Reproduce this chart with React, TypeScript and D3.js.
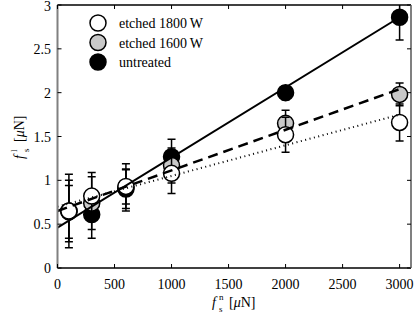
import React from 'react';
import * as d3 from 'd3';

const forces = [100, 300, 600, 1000, 2000, 3000];

const etched1800 = [0.65, 0.82, 0.93, 1.08, 1.52, 1.66];
const etched1800Err = [0.42, 0.27, 0.2, 0.23, 0.2, 0.21];
const etched1600 = [0.65, 0.74, 0.92, 1.17, 1.65, 1.98];
const etched1600Err = [0.35, 0.3, 0.27, 0.2, 0.15, 0.13];
const untreated = [0.64, 0.61, 0.9, 1.27, 2.0, 2.86];
const untreatedErr = [0.3, 0.27, 0.22, 0.2, 0.08, 0.26];

const fitX = [0, 3000];
const fit1800 = [0.7, 1.75];
const fit1600 = [0.65, 2.04];
const fitUntreated = [0.46, 2.86];

const xTicks = [0, 500, 1000, 1500, 2000, 2500, 3000];
const yTicks = [0, 0.5, 1, 1.5, 2, 2.5, 3];

const legendLabels = ['etched 1800\u2009W', 'etched 1600\u2009W', 'untreated'];

const W = 415;
const H = 313;
const left = 57.5;
const right = 411;
const top = 5;
const bottom = 268;
const font = '"Liberation Serif", "DejaVu Serif", serif';

const App: React.FC = () => {
  const x = d3.scaleLinear().domain([0, 3100]).range([left, right]);
  const y = d3.scaleLinear().domain([0, 3]).range([bottom, top]);

  const line = d3.line<number>().x((_, i) => x(fitX[i])).y(d => y(d));

  // drawn back to front: untreated, 1600 W, 1800 W
  const series = [
    { vals: untreated, err: untreatedErr, fill: '#000' },
    { vals: etched1600, err: etched1600Err, fill: '#c8c8c8' },
    { vals: etched1800, err: etched1800Err, fill: '#fff' },
  ];
  const legendFills = ['#fff', '#c8c8c8', '#000'];

  return (
    <svg width={W} height={H} style={{ position: 'absolute', left: 0, top: 0, background: '#fff' }} fontFamily={font}>
      <defs>
        <clipPath id="plot">
          <rect x={left} y={top} width={right - left} height={bottom - top} />
        </clipPath>
      </defs>

      <g clipPath="url(#plot)">
        {series.map((s, si) => (
          <g key={si}>
            {s.vals.map((v, i) => {
              const cx = x(forces[i]);
              const y0 = y(v - s.err[i]);
              const y1 = y(v + s.err[i]);
              return (
                <g key={i} stroke="#000" strokeWidth={1.5}>
                  <line x1={cx} x2={cx} y1={y0} y2={y1} />
                  <line x1={cx - 4} x2={cx + 4} y1={y0} y2={y0} />
                  <line x1={cx - 4} x2={cx + 4} y1={y1} y2={y1} />
                  <circle cx={cx} cy={y(v)} r={8} fill={s.fill} />
                </g>
              );
            })}
          </g>
        ))}
        <path d={line(fitUntreated) ?? ''} fill="none" stroke="#000" strokeWidth={2} />
        <path d={line(fit1600) ?? ''} fill="none" stroke="#000" strokeWidth={2.5} strokeDasharray="10,6" />
        <path d={line(fit1800) ?? ''} fill="none" stroke="#000" strokeWidth={2} strokeDasharray="1,3.5" />
      </g>

      {/* frame */}
      <line x1={left} x2={right} y1={bottom} y2={bottom} stroke="#000" strokeWidth={1.3} />
      <line x1={left} x2={right} y1={top} y2={top} stroke="#000" strokeWidth={1.3} />
      <line x1={left} x2={left} y1={top} y2={bottom} stroke="#808080" strokeWidth={2} />
      <line x1={right} x2={right} y1={top} y2={bottom} stroke="#808080" strokeWidth={2} />

      {xTicks.map(t => (
        <g key={t}>
          <line x1={x(t)} x2={x(t)} y1={bottom} y2={bottom - 4} stroke="#000" strokeWidth={1} />
          <line x1={x(t)} x2={x(t)} y1={top} y2={top + 4} stroke="#000" strokeWidth={1} />
          <text x={x(t)} y={289} textAnchor="middle" fontSize={14} fill="#000">{t}</text>
        </g>
      ))}
      {yTicks.map(t => (
        <g key={t}>
          <line x1={left} x2={left + 4} y1={y(t)} y2={y(t)} stroke="#000" strokeWidth={1} />
          <line x1={right} x2={right - 4} y1={y(t)} y2={y(t)} stroke="#000" strokeWidth={1} />
          <text x={51} y={Math.max(y(t) + 5, 11)} textAnchor="end" fontSize={14} fill="#000">{t}</text>
        </g>
      ))}

      {/* x label: f_s^n [μN] */}
      <text x={212} y={307} fontSize={14} fill="#000">
        <tspan fontStyle="italic">f</tspan>
        <tspan x={219} y={300} fontSize={9}>n</tspan>
        <tspan x={219} y={311.5} fontSize={9}>s</tspan>
        <tspan x={229} y={307}>[</tspan>
        <tspan fontStyle="italic">μ</tspan>
        <tspan>N]</tspan>
      </text>

      {/* y label: f_s^l [μN] */}
      <g transform="translate(24,136) rotate(-90)">
        <text x={-23} y={0} fontSize={14} fill="#000">
          <tspan fontStyle="italic">f</tspan>
          <tspan x={-16} y={-7} fontSize={9}>l</tspan>
          <tspan x={-16} y={4.5} fontSize={9}>s</tspan>
          <tspan x={-6} y={0}>[</tspan>
          <tspan fontStyle="italic">μ</tspan>
          <tspan>N]</tspan>
        </text>
      </g>

      {/* legend */}
      {legendLabels.map((lab, i) => (
        <g key={lab}>
          <circle cx={98} cy={23 + i * 19.5} r={8} fill={legendFills[i]} stroke="#000" strokeWidth={1.5} />
          <text x={119} y={28 + i * 19.5} fontSize={14} fill="#000">{lab}</text>
        </g>
      ))}
    </svg>
  );
};

export default App;
